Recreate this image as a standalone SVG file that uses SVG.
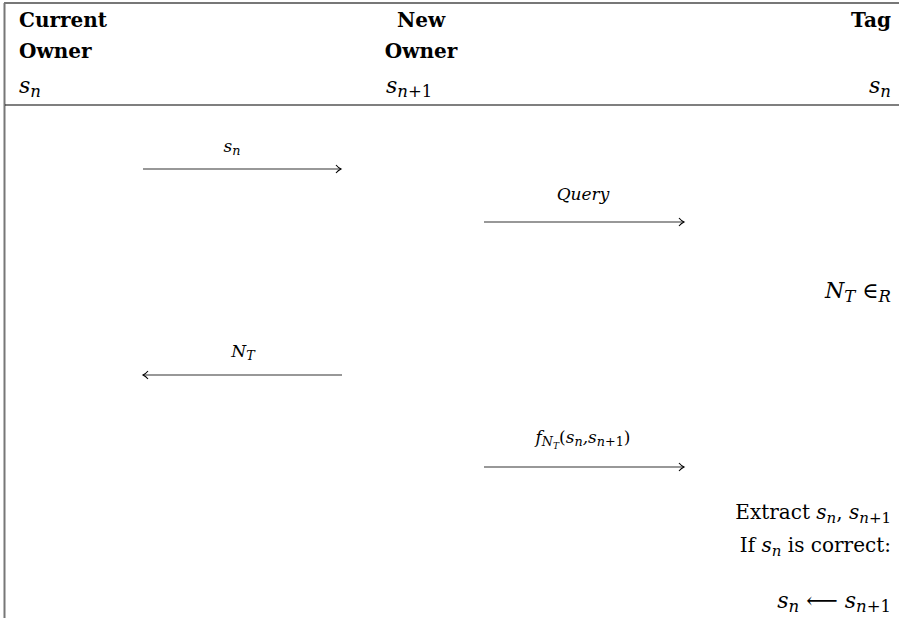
<svg xmlns="http://www.w3.org/2000/svg" width="899" height="618" viewBox="0 0 899 618">
<style>
text{font-family:"DejaVu Serif","Liberation Serif",serif;fill:#000}
.h{font-weight:bold;font-size:20px}
.t{font-size:20px}
.m{font-size:22px}
.s{font-size:17px}
.i{font-style:italic}
.sub{font-size:75%}
.ln{stroke:#333;stroke-width:1.2;fill:none}
</style>
<defs>
<marker id="ah" markerWidth="10" markerHeight="12" refX="8" refY="6" orient="auto" markerUnits="userSpaceOnUse">
<path d="M3,2 Q5,4.5 8,6 Q5,7.5 3,10" fill="none" stroke="#000" stroke-width="1.1"/>
</marker>
</defs>
<g id="frame">
<line x1="4.5" y1="3" x2="4.5" y2="618" stroke="#777" stroke-width="2"/>
<line x1="4" y1="3" x2="899" y2="3" stroke="#777" stroke-width="2"/>
<line x1="5" y1="105" x2="899" y2="105" stroke="#000" stroke-width="1.2"/>
</g>
<g id="current-owner">
<text class="h" x="19" y="27">Current</text>
<text class="h" x="19" y="58">Owner</text>
<text class="m i" x="19" y="93">s<tspan class="sub" dy="4">n</tspan></text>
</g>
<g id="new-owner">
<text class="h" x="421" y="27" text-anchor="middle">New</text>
<text class="h" x="421" y="58" text-anchor="middle">Owner</text>
<text class="m i" x="386" y="93">s<tspan class="sub" dy="4">n<tspan font-style="normal">+1</tspan></tspan></text>
</g>
<g id="tag">
<text class="h" x="891" y="27" text-anchor="end">Tag</text>
<text class="m i" x="891" y="93" text-anchor="end">s<tspan class="sub" dy="4">n</tspan></text>
</g>
<g id="connectors">
<line class="ln" x1="143" y1="169" x2="341" y2="169" marker-end="url(#ah)"/>
<line class="ln" x1="484" y1="222" x2="684" y2="222" marker-end="url(#ah)"/>
<line class="ln" x1="342" y1="375" x2="143" y2="375" marker-end="url(#ah)"/>
<line class="ln" x1="484" y1="467" x2="684" y2="467" marker-end="url(#ah)"/>
</g>
<g id="labels">
<text class="s i" x="232" y="152" text-anchor="middle">s<tspan class="sub" dy="3">n</tspan></text>
<text class="s i" x="583" y="200" text-anchor="middle">Query</text>
<text class="s i" x="243" y="357" text-anchor="middle">N<tspan class="sub" dy="3">T</tspan></text>
<text class="s i" x="583" y="443" text-anchor="middle">f<tspan class="sub" dy="3">N</tspan><tspan font-size="9" dy="3">T</tspan><tspan font-style="normal" dy="-6">(</tspan>s<tspan class="sub" dy="3">n</tspan><tspan dy="-3">,</tspan>s<tspan class="sub" dy="3">n<tspan font-style="normal">+1</tspan></tspan><tspan font-style="normal" dy="-3">)</tspan></text>
</g>
<g id="tag-steps">
<text class="m" x="891" y="298" text-anchor="end"><tspan font-style="italic">N</tspan><tspan class="sub" font-style="italic" dy="4">T</tspan><tspan dy="-4">  ∈</tspan><tspan class="sub" font-style="italic" dy="4">R</tspan></text>
<text class="t" x="891" y="519" text-anchor="end">Extract <tspan font-style="italic">s</tspan><tspan class="sub" font-style="italic" dy="4">n</tspan><tspan dy="-4">, </tspan><tspan font-style="italic">s</tspan><tspan class="sub" font-style="italic" dy="4">n</tspan><tspan class="sub">+1</tspan></text>
<text class="t" x="891" y="552" text-anchor="end">If <tspan font-style="italic">s</tspan><tspan class="sub" font-style="italic" dy="4">n</tspan><tspan dy="-4"> is correct:</tspan></text>
<text class="m" x="891" y="608" text-anchor="end"><tspan font-style="italic">s</tspan><tspan class="sub" font-style="italic" dy="4">n</tspan><tspan dy="-4"> ⟵ </tspan><tspan font-style="italic">s</tspan><tspan class="sub" font-style="italic" dy="4">n</tspan><tspan class="sub">+1</tspan></text>
</g>
</svg>
